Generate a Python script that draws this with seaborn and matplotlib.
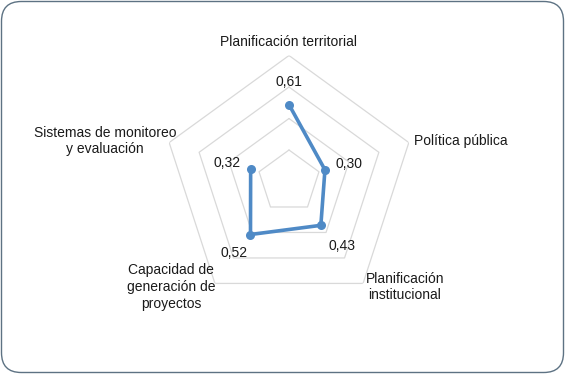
import numpy as np
import pandas as pd
import matplotlib
matplotlib.use("Agg")
import matplotlib.pyplot as plt
from matplotlib.patches import FancyBboxPatch
import seaborn as sns

categories = [
    "Planificación territorial",
    "Política pública",
    "Planificación\ninstitucional",
    "Capacidad de\ngeneración de\nproyectos",
    "Sistemas de monitoreo\ny evaluación",
]
values = [0.61, 0.30, 0.43, 0.52, 0.32]
grid_levels = [0.25, 0.50, 0.75, 1.00]
value_labels = [f"{v:.2f}".replace(".", ",") for v in values]

sns.set_theme(style="white")
plt.rcParams["font.family"] = ["Liberation Sans", "DejaVu Sans"]

W, H = 565, 374
fig = plt.figure(figsize=(W / 100, H / 100), dpi=100)

cx, cy, R = 289, 181.5, 126
ax = fig.add_axes([(cx - R) / W, (H - cy - R) / H, 2 * R / W, 2 * R / H], projection="polar")
ax.set_theta_zero_location("N")
ax.set_theta_direction(-1)
ax.set_ylim(0, grid_levels[-1])
ax.grid(False)
ax.spines["polar"].set_visible(False)
ax.set_xticks([])
ax.set_yticks([])
ax.patch.set_alpha(0)

n = len(categories)
theta = np.arange(n) * 2 * np.pi / n
theta_closed = np.append(theta, theta[0])

for lv in grid_levels:
    ax.plot(theta_closed, [lv] * (n + 1), color="#d9d9d9", lw=0.9, zorder=1)

df = pd.DataFrame({"theta": theta_closed, "value": values + values[:1]})
line_color = "#4f8ac6"
sns.lineplot(data=df, x="theta", y="value", sort=False, ax=ax, color=line_color,
             lw=2.6, marker="o", markersize=6.5, markeredgewidth=0,
             markeredgecolor=line_color, zorder=3)
ax.set_xlabel("")
ax.set_ylabel("")

label_offsets = [(0, 23), (24, 6), (21, -21), (-16, -18), (-24, 6)]
for t, v, txt, off in zip(theta, values, value_labels, label_offsets):
    ax.annotate(txt, (t, v), xytext=off, textcoords="offset pixels",
                ha="center", va="center", fontsize=10, color="#1a1a1a")

cat_pos = [(289, 42, "center"), (414, 141, "left"), (405, 287, "center"),
           (171, 287, "center"), (105, 141, "center")]
for (px, py, ha), cat in zip(cat_pos, categories):
    fig.text(px / W, 1 - py / H, cat, ha=ha, va="center", fontsize=10,
             color="#1a1a1a", linespacing=1.25)

border = FancyBboxPatch((1.5 / W, 1.5 / H), (W - 3) / W, (H - 3) / H,
                        boxstyle="round,pad=0,rounding_size=0.035",
                        transform=fig.transFigure, fill=False,
                        edgecolor="#5d7283", lw=1.0, mutation_aspect=W / H)
fig.patches.append(border)

fig.savefig("out.png", dpi=100)
